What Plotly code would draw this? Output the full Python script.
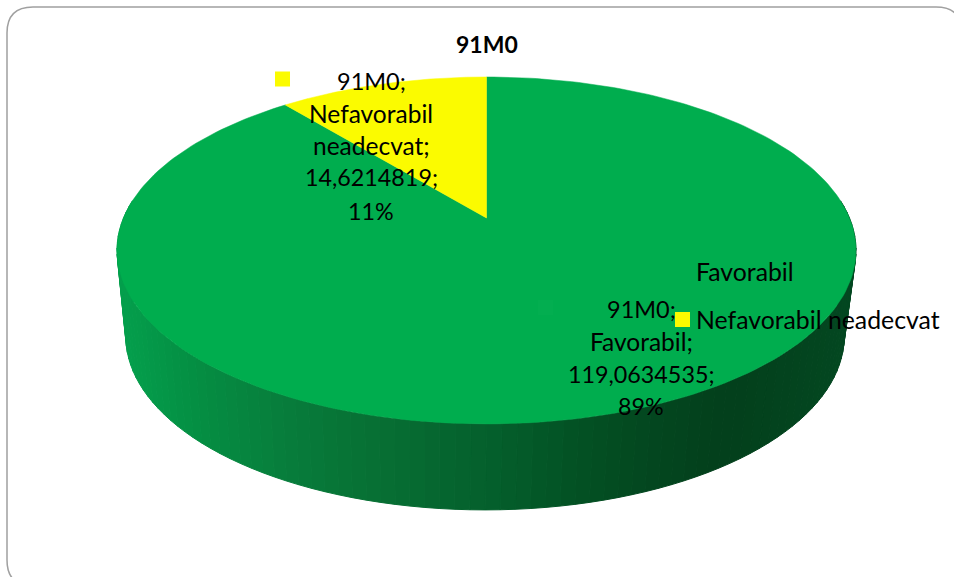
import numpy as np
import plotly.graph_objects as go

# ---- data ----
title = "91M0"
categories = ["Favorabil", "Nefavorabil neadecvat"]
values = [119.0634535, 14.6214819]
percent_labels = ["89%", "11%"]
colors = ["#00AD4E", "#FBFB00"]

W, H = 954, 577
FONT = "Lato"
CX, CY = 486.5, 218.0          # projected pie centre
A, B, K = 363.0, 167.4, -0.187 # projected radius and perspective of the top face
DEPTH = 86.0
WALL_SHRINK = 0.972
WALL_CX = 485.0


def project(theta, r=1.0):
    """theta clockwise from 12 o'clock, in radians, on the tilted disc."""
    x = r * np.sin(theta)
    y = r * np.cos(theta)
    d = 1 - K * y
    return CX + A * x / d, CY - B * y / d


def wall_point(theta):
    x, y = project(theta)
    return WALL_CX + (x - CX) * WALL_SHRINK, y + DEPTH


def wall_color(x):
    stops_x = [120, 200, 294, 390, 488, 585, 660, 725, 850]
    stops = np.array([
        [4, 160, 77], [5, 142, 67], [8, 124, 59], [7, 110, 51], [5, 96, 45],
        [3, 80, 35], [3, 70, 31], [3, 64, 28], [3, 72, 33],
    ], dtype=float)
    return "rgb(%d,%d,%d)" % tuple(np.interp(x, stops_x, stops[:, i]) for i in range(3))


fig = go.Figure()

# side wall: vertical strips along the front of the disc
edges = np.radians(np.linspace(84, 276, 97))
for t0, t1 in zip(edges[:-1], edges[1:]):
    ts = np.array([t0, t1])
    tx, ty = project(ts)
    bx, by = wall_point(ts)
    c = wall_color((tx.mean() + bx.mean()) / 2)
    fig.add_trace(go.Scatter(
        x=[tx[0], tx[1], bx[1], bx[0], tx[0]], y=[ty[0], ty[1], by[1], by[0], ty[0]],
        mode="lines", fill="toself", fillcolor=c, line=dict(color=c, width=1),
        hoverinfo="skip", showlegend=False))

# top face slices, driven by the values
total = sum(values)
start = 2 * np.pi * (1 - values[1] / total)
spans = [(0.0, start), (start, 2 * np.pi)]
for (a0, a1), col, name in zip(spans, colors, categories):
    ts = np.linspace(a0, a1, 240)
    x, y = project(ts)
    fig.add_trace(go.Scatter(
        x=np.r_[CX, x, CX], y=np.r_[CY, y, CY], mode="lines", fill="toself",
        fillcolor=col, line=dict(color=col, width=0.5), name=name, showlegend=False))

# keys next to the labels and legend entries
key_x = [682.5, 682.5, 282.5, 545.5]
key_y = [271, 319.5, 79, 307.5]
key_c = [colors[0], colors[1], colors[1], "#03AE50"]
fig.add_trace(go.Scatter(x=key_x, y=key_y, mode="markers", hoverinfo="skip", showlegend=False,
                         marker=dict(symbol="square", size=15, color=key_c, line=dict(width=0))))


def label(text, x, y, size=24.5, bold=False, anchor="center"):
    fig.add_annotation(x=x, y=y, xref="x", yref="y", text=f"<b>{text}</b>" if bold else text,
                       showarrow=False, xanchor=anchor, yanchor="middle",
                       font=dict(family=FONT, size=size, color="#000000"))


def pretty(v):
    return f"{v:.7f}".replace(".", ",")


label(title, 487, 44, size=23, bold=True)
for line, y, s in zip([title + ";", "Nefavorabil", "neadecvat;", pretty(values[1]) + ";", percent_labels[1]],
                      [81, 113, 145, 177, 211], [23.5, 24.5, 24.5, 23.3, 23.3]):
    label(line, 371, y, size=s)
for line, y, s in zip([title + ";", categories[0] + ";", pretty(values[0]) + ";", percent_labels[0]],
                      [309, 341, 374, 406], [23.5, 24.5, 23.3, 23.3]):
    label(line, 641, y, size=s)
label(categories[0], 694, 271, size=24.8, anchor="left")
label(categories[1], 694, 319, size=24.8, anchor="left")

r = 26
L, T, Rr, Bb = 7, 7, 962, 586
fig.add_shape(type="path", xref="x", yref="y", line=dict(color="#A0A0A0", width=1.5),
              path=f"M{L+r},{T} L{Rr-r},{T} Q{Rr},{T} {Rr},{T+r} L{Rr},{Bb-r} Q{Rr},{Bb} {Rr-r},{Bb} "
                   f"L{L+r},{Bb} Q{L},{Bb} {L},{Bb-r} L{L},{T+r} Q{L},{T} {L+r},{T} Z")

fig.update_layout(
    width=W, height=H, margin=dict(l=0, r=0, t=0, b=0),
    paper_bgcolor="white", plot_bgcolor="white", showlegend=False,
    xaxis=dict(range=[0, W], visible=False, fixedrange=True),
    yaxis=dict(range=[H, 0], visible=False, fixedrange=True),
)
fig.write_html("out.html", config={"displayModeBar": False},
               post_script="document.body.style.margin='0';")
